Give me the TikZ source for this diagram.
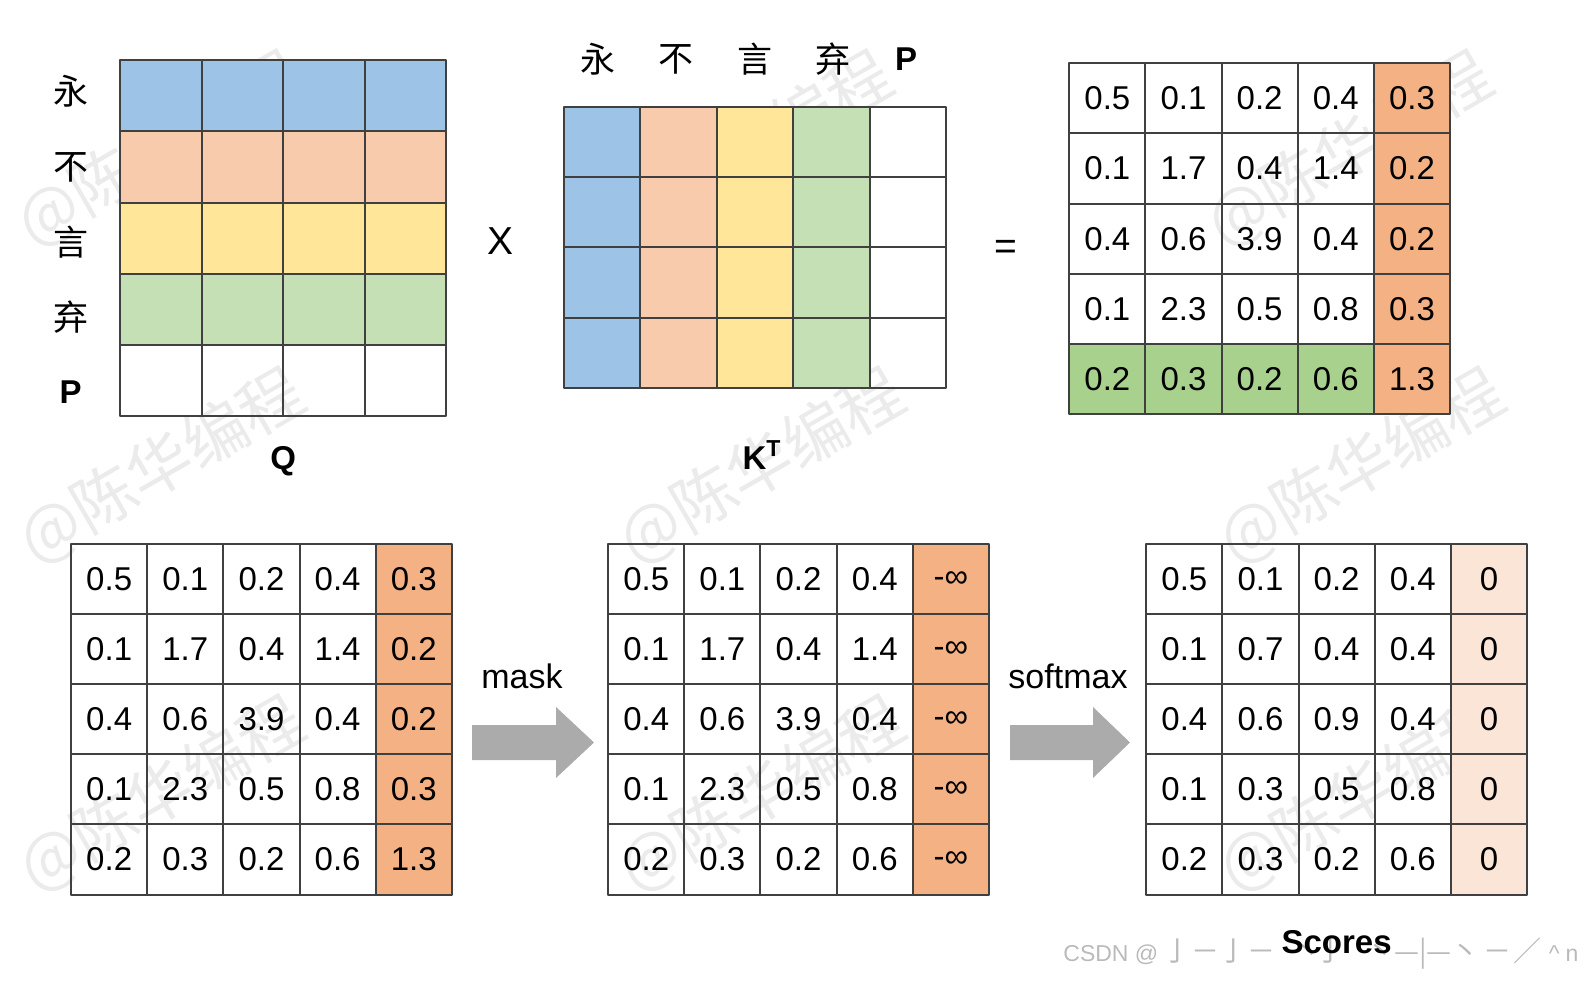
\documentclass[tikz,border=0pt]{standalone}
\usepackage{fontspec}
\setmainfont{Liberation Sans}
\newfontfamily\cjk{Noto Sans CJK SC}
\usepackage{xcolor}
\usetikzlibrary{positioning}

\definecolor{gridline}{HTML}{404040}
\definecolor{qblue}{HTML}{9DC3E6}
\definecolor{qpeach}{HTML}{F8CBAD}
\definecolor{qyellow}{HTML}{FFE699}
\definecolor{qgreen}{HTML}{C5E0B4}
\definecolor{maskorange}{HTML}{F4B183}
\definecolor{rowgreen}{HTML}{A9D18E}
\definecolor{zeropeach}{HTML}{FBE5D6}
\definecolor{arrowgray}{HTML}{ABABAB}

\begin{document}
\begin{tikzpicture}[
  x=0.5pt,
  y=-0.5pt,
  line join=round,
  cell/.style={
    draw=gridline,
    line width=1pt,
    minimum width=38.07pt,
    minimum height=35.03pt,
    inner sep=0pt,
    font=\fontsize{16.5}{18}\selectfont
  },
  qcell/.style={cell, minimum width=40.8pt, minimum height=35.65pt},
  kcell/.style={cell, minimum width=38.2pt, minimum height=35.05pt},
  rcell/.style={cell, minimum width=38.07pt, minimum height=35.1pt},
  tokenlabel/.style={
    font=\cjk\fontsize{17.5}{19}\selectfont,
    inner sep=0pt
  },
  namelabel/.style={
    font=\bfseries\fontsize{16.5}{18}\selectfont,
    inner sep=0pt
  },
  oplabel/.style={font=\fontsize{19.5}{21}\selectfont, inner sep=0pt},
  steplabel/.style={font=\fontsize{17}{19}\selectfont, inner sep=0pt},
  fatarrow/.style={fill=arrowgray},
  watermark/.style={
    font=\cjk\fontsize{32}{34}\selectfont,
    text=black,
    text opacity=0.08,
    rotate=30
  },
  credit/.style={
    font=\fontsize{11.5}{13}\selectfont,
    text=black!27,
    anchor=west,
    inner sep=0pt
  }
]

\useasboundingbox (0,0) rectangle (1592,984);

% watermarks, behind the filled cells
\foreach \wx/\wy in {160/150, 750/150, 1350/150,
                     162/467, 762/467, 1362/467,
                     162/795, 762/795, 1362/795}
  \node[watermark] (wm-\wx-\wy) at (\wx,\wy) {@陈华编程};

% =========================================================
% Upper level: Q x K^T = raw scores
% =========================================================

% ---------------- Q ----------------

\foreach \r/\rowfill in {1/qblue, 2/qpeach, 3/qyellow, 4/qgreen, 5/none}
  \foreach \c in {1,...,4}
    \node[qcell, fill=\rowfill] (q-\r-\c)
      at ({120+81.6*(\c-0.5)},{60+71.3*(\r-0.5)}) {};

\node[tokenlabel] (qyong) at (70.7,91) {永};
\node[tokenlabel] (qbu)   at (70.7,167) {不};
\node[tokenlabel] (qyan)  at (70.7,242) {言};
\node[tokenlabel] (qqi)   at (70.7,317) {弃};
\node[namelabel]  (qpad)  at (70.7,392) {P};

\node[namelabel] (qname) at (283.3,461) {Q};

\node[oplabel] (times) at (501,241) {X};

% ---------------- K transposed ----------------

\foreach \c/\colfill in {1/qblue, 2/qpeach, 3/qyellow, 4/qgreen, 5/none}
  \foreach \r in {1,...,4}
    \node[kcell, fill=\colfill] (k-\r-\c)
      at ({564+76.4*(\c-0.5)},{107.3+70.1*(\r-0.5)}) {};

\node[tokenlabel] (kyong) at (598,59.2) {永};
\node[tokenlabel] (kbu)   at (676,59.2) {不};
\node[tokenlabel] (kyan)  at (755,59.2) {言};
\node[tokenlabel] (kqi)   at (833,59.2) {弃};
\node[namelabel]  (kpad)  at (906,59.2) {P};

\node[namelabel] (kname) at (762,455) {K\textsuperscript{T}};

\node[oplabel] (equals) at (1006,250) {=};

% ---------------- raw scores ----------------

\foreach \row [count=\r] in {
    {0.5,0.1,0.2,0.4,0.3},
    {0.1,1.7,0.4,1.4,0.2},
    {0.4,0.6,3.9,0.4,0.2},
    {0.1,2.3,0.5,0.8,0.3},
    {0.2,0.3,0.2,0.6,1.3}}
  \foreach \v [count=\c] in \row {
    \ifnum\c=5 \def\cellfill{maskorange}%
    \else\ifnum\r=5 \def\cellfill{rowgreen}%
    \else \def\cellfill{none}\fi\fi
    \node[rcell, fill=\cellfill] (s-\r-\c)
      at ({1069.3+76.14*(\c-0.5)},{63.3+70.2*(\r-0.5)}) {\v};
  }


% =========================================================
% Lower level: mask, then softmax
% =========================================================

% ---------------- scores before masking ----------------

\foreach \row [count=\r] in {
    {0.5,0.1,0.2,0.4,0.3},
    {0.1,1.7,0.4,1.4,0.2},
    {0.4,0.6,3.9,0.4,0.2},
    {0.1,2.3,0.5,0.8,0.3},
    {0.2,0.3,0.2,0.6,1.3}}
  \foreach \v [count=\c] in \row {
    \ifnum\c=5 \def\cellfill{maskorange}\else \def\cellfill{none}\fi
    \node[cell, fill=\cellfill] (a-\r-\c)
      at ({71.1+76.14*(\c-0.5)},{544.2+70.06*(\r-0.5)}) {\v};
  }

\coordinate (maskfrom) at (472,742.5);
\fill[fatarrow] (maskfrom) ++(0,-17.5) -- ++(84,0) -- ++(0,-18)
  -- ++(38,35.5) -- ++(-38,35.5) -- ++(0,-18) -- ++(-84,0) -- cycle;
\node[steplabel] (masklabel) at (522,676) {mask};

% ---------------- masked scores ----------------

\foreach \row [count=\r] in {
    {0.5,0.1,0.2,0.4,-∞},
    {0.1,1.7,0.4,1.4,-∞},
    {0.4,0.6,3.9,0.4,-∞},
    {0.1,2.3,0.5,0.8,-∞},
    {0.2,0.3,0.2,0.6,-∞}}
  \foreach \v [count=\c] in \row {
    \ifnum\c=5 \def\cellfill{maskorange}\else \def\cellfill{none}\fi
    \node[cell, fill=\cellfill] (b-\r-\c)
      at ({608.2+76.14*(\c-0.5)},{544.2+70.06*(\r-0.5)}) {\v};
  }

\coordinate (softfrom) at (1010,742.5);
\fill[fatarrow] (softfrom) ++(0,-17.5) -- ++(83,0) -- ++(0,-18)
  -- ++(37,35.5) -- ++(-37,35.5) -- ++(0,-18) -- ++(-83,0) -- cycle;
\node[steplabel] (softlabel) at (1068,676) {softmax};

% ---------------- attention scores ----------------

\foreach \row [count=\r] in {
    {0.5,0.1,0.2,0.4,0},
    {0.1,0.7,0.4,0.4,0},
    {0.4,0.6,0.9,0.4,0},
    {0.1,0.3,0.5,0.8,0},
    {0.2,0.3,0.2,0.6,0}}
  \foreach \v [count=\c] in \row {
    \ifnum\c=5 \def\cellfill{zeropeach}\else \def\cellfill{none}\fi
    \node[cell, fill=\cellfill] (c-\r-\c)
      at ({1146.3+76.14*(\c-0.5)},{544.2+70.06*(\r-0.5)}) {\v};
  }

\node[credit] (csdn) at (1063,954)
  {CSDN @\kern2.5pt{\cjk\fontsize{14}{15}\selectfont 亅－亅－\kern9pt丶\kern-2.5pt亅\kern11pt丶—|—丶\kern2pt－\kern1pt／}\kern3.5pt\textasciicircum\kern3pt n};

\node[namelabel] (scores) at (1336.6,942) {Scores};

\end{tikzpicture}
\end{document}
